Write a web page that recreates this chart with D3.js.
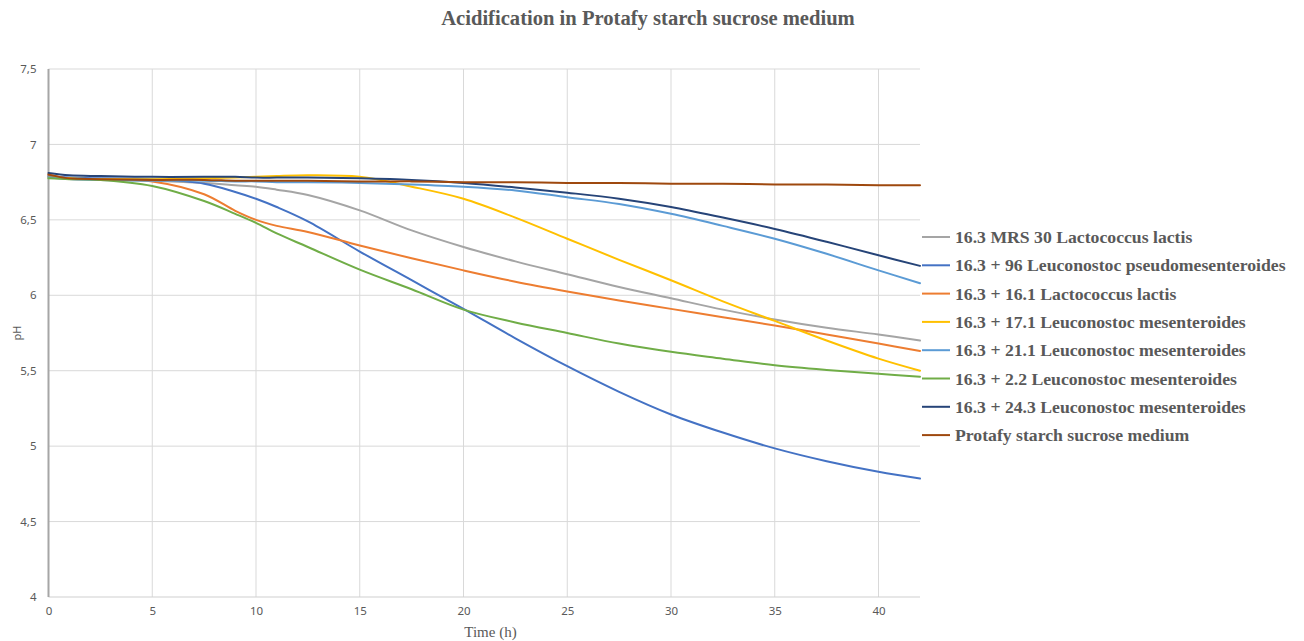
<!DOCTYPE html>
<html>
<head>
<meta charset="utf-8">
<script src="https://cdn.jsdelivr.net/npm/d3@7"></script>
<style>
  html, body { margin: 0; padding: 0; background: #fff; }
  svg { display: block; }
</style>
</head>
<body>
<svg id="chart" width="1304" height="641"></svg>
<script>
const title = "Acidification in Protafy starch sucrose medium";
const xLabel = "Time (h)";
const yLabel = "pH";
const xTicks = [0, 5, 10, 15, 20, 25, 30, 35, 40];
const yTicks = [4, 4.5, 5, 5.5, 6, 6.5, 7, 7.5];

const time = [0, 1, 2.5, 5, 7.5, 9, 10, 11, 12.5, 15, 17.5, 20, 22.5, 25, 27.5, 30, 32.5, 35, 37.5, 40, 42];

const seriesNames = [
  "16.3 MRS 30 Lactococcus lactis",
  "16.3 + 96 Leuconostoc pseudomesenteroides",
  "16.3 + 16.1 Lactococcus lactis",
  "16.3 + 17.1 Leuconostoc mesenteroides",
  "16.3 + 21.1 Leuconostoc mesenteroides",
  "16.3 + 2.2 Leuconostoc mesenteroides",
  "16.3 + 24.3 Leuconostoc mesenteroides",
  "Protafy starch sucrose medium"
];
const seriesColors = ["#A5A5A5", "#4472C4", "#ED7D31", "#FFC000", "#5B9BD5", "#70AD47", "#264478", "#9E480E"];

const mrs30 =   [6.79, 6.77, 6.765, 6.76, 6.745, 6.73, 6.72, 6.70, 6.665, 6.563, 6.43, 6.32, 6.225, 6.14, 6.055, 5.98, 5.905, 5.84, 5.785, 5.74, 5.70];
const s96 =     [6.79, 6.78, 6.775, 6.77, 6.74, 6.685, 6.64, 6.585, 6.49, 6.29, 6.10, 5.91, 5.715, 5.53, 5.36, 5.21, 5.09, 4.985, 4.90, 4.83, 4.785];
const s161 =    [6.80, 6.775, 6.77, 6.755, 6.67, 6.56, 6.50, 6.46, 6.42, 6.33, 6.245, 6.165, 6.09, 6.025, 5.965, 5.91, 5.855, 5.80, 5.74, 5.68, 5.63];
const s171 =    [6.78, 6.775, 6.77, 6.77, 6.775, 6.78, 6.785, 6.79, 6.795, 6.785, 6.72, 6.64, 6.515, 6.375, 6.235, 6.10, 5.96, 5.83, 5.70, 5.58, 5.50];
const s211 =    [6.78, 6.77, 6.765, 6.76, 6.76, 6.755, 6.755, 6.75, 6.75, 6.745, 6.735, 6.72, 6.695, 6.65, 6.605, 6.54, 6.46, 6.375, 6.275, 6.165, 6.08];
const s22 =     [6.775, 6.77, 6.765, 6.725, 6.625, 6.54, 6.48, 6.41, 6.32, 6.17, 6.04, 5.905, 5.82, 5.75, 5.68, 5.625, 5.58, 5.536, 5.505, 5.48, 5.46];
const s243 =    [6.81, 6.795, 6.79, 6.785, 6.785, 6.785, 6.78, 6.78, 6.78, 6.775, 6.765, 6.745, 6.715, 6.68, 6.64, 6.585, 6.515, 6.44, 6.355, 6.265, 6.195];
const protafy = [6.80, 6.775, 6.77, 6.765, 6.765, 6.76, 6.76, 6.76, 6.76, 6.755, 6.755, 6.75, 6.75, 6.745, 6.745, 6.74, 6.74, 6.735, 6.735, 6.73, 6.73];

const seriesValues = [mrs30, s96, s161, s171, s211, s22, s243, protafy];

const svg = d3.select("#chart");
const pLeft = 48.5, pRight = 920, pTop = 69, pBottom = 597;
const x = d3.scaleLinear().domain([0, 42]).range([pLeft, pRight]);
const y = d3.scaleLinear().domain([4, 7.5]).range([pBottom, pTop]);
const textColor = "#595959";
const fmt = d => String(d).replace(".", ",");

// Title
svg.append("text")
  .attr("x", 648).attr("y", 25)
  .attr("text-anchor", "middle")
  .attr("font-family", "'Liberation Serif', 'Times New Roman', serif")
  .attr("font-weight", "bold")
  .attr("font-size", 20.6)
  .attr("fill", textColor)
  .text(title);

// Gridlines
svg.append("g")
  .selectAll("line")
  .data(yTicks.filter(d => d > 4))
  .join("line")
  .attr("x1", pLeft).attr("x2", pRight)
  .attr("y1", d => y(d)).attr("y2", d => y(d))
  .attr("stroke", "#d9d9d9").attr("stroke-width", 1);

svg.append("g")
  .selectAll("line")
  .data(xTicks.filter(d => d > 0))
  .join("line")
  .attr("x1", d => x(d)).attr("x2", d => x(d))
  .attr("y1", pTop).attr("y2", pBottom)
  .attr("stroke", "#d9d9d9").attr("stroke-width", 1);

// Axes via d3
const yAxis = d3.axisLeft(y).tickValues(yTicks).tickFormat(fmt).tickSize(0).tickPadding(12);
const gy = svg.append("g").attr("transform", `translate(${pLeft},0)`).call(yAxis);
gy.select(".domain").remove();
gy.selectAll("text")
  .attr("font-family", "'Noto Sans', 'Open Sans', sans-serif")
  .attr("font-size", 11.5)
  .attr("fill", textColor);

const xAxis = d3.axisBottom(x).tickValues(xTicks).tickFormat(fmt).tickSize(0).tickPadding(10);
const gx = svg.append("g").attr("transform", `translate(0,${pBottom})`).call(xAxis);
gx.select(".domain").remove();
gx.selectAll("text")
  .attr("font-family", "'Noto Sans', 'Open Sans', sans-serif")
  .attr("font-size", 11.5)
  .attr("fill", textColor);

// Axis lines
svg.append("line")
  .attr("x1", pLeft).attr("x2", pRight)
  .attr("y1", pBottom).attr("y2", pBottom)
  .attr("stroke", "#d0d0d0").attr("stroke-width", 1.2);
svg.append("line")
  .attr("x1", pLeft).attr("x2", pLeft)
  .attr("y1", pTop).attr("y2", pBottom)
  .attr("stroke", "#a6a6a6").attr("stroke-width", 2);

// Axis titles
svg.append("text")
  .attr("x", x(21.3)).attr("y", 637)
  .attr("text-anchor", "middle")
  .attr("font-family", "'Liberation Serif', 'Times New Roman', serif")
  .attr("font-size", 15)
  .attr("fill", textColor)
  .text(xLabel);

svg.append("text")
  .attr("transform", `translate(21,${(pTop + pBottom) / 2}) rotate(-90)`)
  .attr("text-anchor", "middle")
  .attr("font-family", "'Noto Sans', 'Open Sans', sans-serif")
  .attr("font-size", 11)
  .attr("fill", textColor)
  .text(yLabel);

// Lines
const line = d3.line()
  .x((d, i) => x(time[i]))
  .y(d => y(d))
  .curve(d3.curveCatmullRom.alpha(0.5));

svg.append("g")
  .selectAll("path")
  .data(seriesValues)
  .join("path")
  .attr("d", d => line(d))
  .attr("fill", "none")
  .attr("stroke", (d, i) => seriesColors[i])
  .attr("stroke-width", 2)
  .attr("stroke-linejoin", "round")
  .attr("stroke-linecap", "round");

// Legend
const legendY0 = 237, legendStep = 28.3;
const lg = svg.append("g");
seriesNames.forEach((name, i) => {
  const yy = legendY0 + i * legendStep;
  lg.append("line")
    .attr("x1", 922).attr("x2", 950)
    .attr("y1", yy).attr("y2", yy)
    .attr("stroke", seriesColors[i]).attr("stroke-width", 2);
  lg.append("text")
    .attr("x", 955).attr("y", yy + 6)
    .attr("font-family", "'Liberation Serif', 'Times New Roman', serif")
    .attr("font-weight", "bold")
    .attr("font-size", 17.7)
    .attr("fill", textColor)
    .text(name);
});
</script>
</body>
</html>
